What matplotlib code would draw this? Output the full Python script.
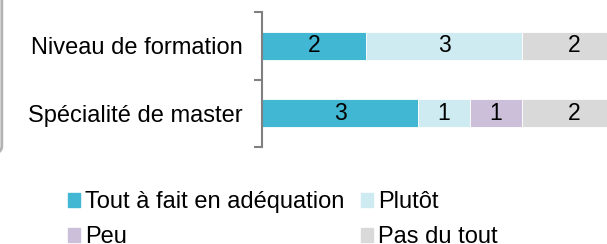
import matplotlib
matplotlib.use('Agg')
import matplotlib.pyplot as plt
import matplotlib.patches as mpatches
import numpy as np

plt.rcParams['font.family'] = ['Liberation Sans', 'DejaVu Sans']

categories = ['Niveau de formation', 'Spécialité de master']
series = ['Tout à fait en adéquation', 'Plutôt', 'Peu', 'Pas du tout']
values = {
    'Tout à fait en adéquation': [2, 3],
    'Plutôt': [3, 1],
    'Peu': [0, 1],
    'Pas du tout': [2, 2],
}
colors = ['#41b7d3', '#cdebf1', '#cbbfda', '#d9d9d9']

fig = plt.figure(figsize=(6.07, 2.44), dpi=100)
ax = fig.add_axes([262/607, 97/244, 345/607, 135/244])

y = np.arange(len(categories))
left = np.zeros(len(categories))
for s, c in zip(series, colors):
    v = np.array(values[s], dtype=float)
    ax.barh(y, v, left=left, height=0.41, color=c, edgecolor='white', linewidth=0.6)
    for yi, (l, vi) in enumerate(zip(left, v)):
        if vi > 0:
            ax.text(l + vi / 2, yi, str(int(vi)), ha='center', va='center',
                    fontsize=16.5, color='black')
    left += v

ax.set_xlim(0, 345/52)
ax.set_ylim(1.5, -0.5)
ax.set_xticks([])
ax.set_yticks(y)
ax.set_yticklabels(categories, fontsize=17)
ax.set_yticks([-0.5, 0.5, 1.5], minor=True)
ax.tick_params(axis='y', which='major', length=0, pad=14)
ax.tick_params(axis='y', which='minor', length=6, width=1.5, color='#808080')
for sp in ['top', 'right', 'bottom']:
    ax.spines[sp].set_visible(False)
ax.spines['left'].set_color('#808080')
ax.spines['left'].set_linewidth(1.5)

# rounded frame edge on the left
frame = mpatches.FancyBboxPatch((-0.3, 0.36), 0.303, 0.8,
                                boxstyle='round,pad=0,rounding_size=0.04',
                                transform=fig.transFigure, fill=False,
                                edgecolor='#b3b3b3', linewidth=2, clip_on=False)
fig.patches.append(frame)

# legend filled column-wise, so reorder to get rows: Tout/Plutôt, Peu/Pas du tout
order = [0, 2, 1, 3]
handles = [mpatches.Patch(color=colors[i], label=series[i]) for i in order]
fig.legend(handles=handles, ncol=2, loc='upper left',
           bbox_to_anchor=(68/607, 1 - 191/244), frameon=False, fontsize=17,
           handlelength=0.5, handleheight=0.55, handletextpad=0.22,
           columnspacing=0.7, labelspacing=0.55, borderpad=0, borderaxespad=0)

fig.savefig('out.png', dpi=100)
